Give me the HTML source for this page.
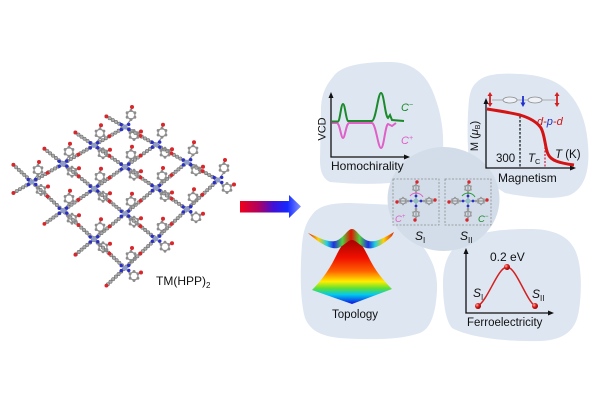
<!DOCTYPE html>
<html><head><meta charset="utf-8">
<style>html,body{margin:0;padding:0;background:#fff;}svg{display:block;}</style>
</head>
<body>
<svg width="600" height="400" viewBox="0 0 600 400" xmlns="http://www.w3.org/2000/svg" xmlns:xlink="http://www.w3.org/1999/xlink" font-family="Liberation Sans, Arial, sans-serif">
<defs>
 <linearGradient id="arr" x1="240" y1="0" x2="301" y2="0" gradientUnits="userSpaceOnUse">
  <stop offset="0" stop-color="#f0001a"/>
  <stop offset="0.3" stop-color="#b00060"/>
  <stop offset="0.55" stop-color="#4010d8"/>
  <stop offset="0.78" stop-color="#1428ff"/>
  <stop offset="1" stop-color="#8494ff"/>
 </linearGradient>
 <linearGradient id="cone" x1="0" y1="238" x2="0" y2="304" gradientUnits="userSpaceOnUse">
  <stop offset="0" stop-color="#a00000"/>
  <stop offset="0.3" stop-color="#f01000"/>
  <stop offset="0.5" stop-color="#ff6000"/>
  <stop offset="0.66" stop-color="#ffee00"/>
  <stop offset="0.76" stop-color="#60e030"/>
  <stop offset="0.86" stop-color="#00c8f0"/>
  <stop offset="1" stop-color="#1010e0"/>
 </linearGradient>
 <linearGradient id="band" x1="308" y1="0" x2="394" y2="0" gradientUnits="userSpaceOnUse">
  <stop offset="0" stop-color="#e02000"/>
  <stop offset="0.12" stop-color="#ffd000"/>
  <stop offset="0.22" stop-color="#20d0e0"/>
  <stop offset="0.3" stop-color="#2030e0"/>
  <stop offset="0.4" stop-color="#50d040"/>
  <stop offset="0.5" stop-color="#e01000"/>
  <stop offset="0.6" stop-color="#50d040"/>
  <stop offset="0.7" stop-color="#2030e0"/>
  <stop offset="0.78" stop-color="#20d0e0"/>
  <stop offset="0.88" stop-color="#ffd000"/>
  <stop offset="1" stop-color="#e02000"/>
 </linearGradient>
 <radialGradient id="ball" cx="0.35" cy="0.35" r="0.7">
  <stop offset="0" stop-color="#ffb8a8"/>
  <stop offset="0.45" stop-color="#e02020"/>
  <stop offset="1" stop-color="#8a0000"/>
 </radialGradient>
 <!-- lattice node -->
 <g id="nd">
  <g stroke="#8a8a8a" stroke-width="1.2" fill="none">
   <line x1="0" y1="0" x2="6" y2="-7.5"/>
   <line x1="6" y1="-16.5" x2="7" y2="-20"/>
   <line x1="0" y1="0" x2="5.1" y2="5.75"/>
   <line x1="12.9" y1="5.75" x2="16" y2="4.5"/>
   <polygon points="6,-16.5 9.9,-14.25 9.9,-9.75 6,-7.5 2.1,-9.75 2.1,-14.25"/>
   <polygon points="9,3.5 12.9,5.75 12.9,10.25 9,12.5 5.1,10.25 5.1,5.75"/>
  </g>
  <g stroke="#8c8c8c" stroke-width="2.9" stroke-linecap="round" stroke-dasharray="0 4.5" fill="none">
   <polygon points="6,-16.5 9.9,-14.25 9.9,-9.75 6,-7.5 2.1,-9.75 2.1,-14.25"/>
   <polygon points="9,3.5 12.9,5.75 12.9,10.25 9,12.5 5.1,10.25 5.1,5.75"/>
  </g>
  <circle cx="7" cy="-20" r="2" fill="#d8262a"/>
  <circle cx="16" cy="4.5" r="2" fill="#d8262a"/>
  <circle cx="0" cy="0" r="2.5" fill="#8e9ccc"/>
  <g fill="#2a2ec8">
   <circle cx="3.8" cy="2.4" r="1.7"/><circle cx="-3.8" cy="-2.4" r="1.7"/>
   <circle cx="-3.7" cy="2.6" r="1.7"/><circle cx="3.7" cy="-2.6" r="1.7"/>
  </g>
 </g>
 <!-- center molecule -->
 <g id="mo">
  <g stroke="#8a8a8a" stroke-width="1" fill="none">
   <line x1="0" y1="-19" x2="0" y2="19"/><line x1="-19" y1="0" x2="19" y2="0"/>
   <polygon points="0,-16.2 2.77,-14.6 2.77,-11.4 0,-9.8 -2.77,-11.4 -2.77,-14.6"/>
   <polygon points="13,-3.2 15.77,-1.6 15.77,1.6 13,3.2 10.23,1.6 10.23,-1.6"/>
   <polygon points="0,9.8 2.77,11.4 2.77,14.6 0,16.2 -2.77,14.6 -2.77,11.4"/>
   <polygon points="-13,-3.2 -10.23,-1.6 -10.23,1.6 -13,3.2 -15.77,1.6 -15.77,-1.6"/>
  </g>
  <g stroke="#9c9c9c" stroke-width="2.2" stroke-linecap="round" stroke-dasharray="0 3.2" fill="none">
   <polygon points="0,-16.2 2.77,-14.6 2.77,-11.4 0,-9.8 -2.77,-11.4 -2.77,-14.6"/>
   <polygon points="13,-3.2 15.77,-1.6 15.77,1.6 13,3.2 10.23,1.6 10.23,-1.6"/>
   <polygon points="0,9.8 2.77,11.4 2.77,14.6 0,16.2 -2.77,14.6 -2.77,11.4"/>
   <polygon points="-13,-3.2 -10.23,-1.6 -10.23,1.6 -13,3.2 -15.77,1.6 -15.77,-1.6"/>
  </g>
  <circle cx="0" cy="-8" r="1.3" fill="#9c9c9c"/><circle cx="0" cy="8" r="1.3" fill="#9c9c9c"/>
  <circle cx="-8" cy="0" r="1.3" fill="#9c9c9c"/><circle cx="8" cy="0" r="1.3" fill="#9c9c9c"/>
  <g fill="#d8262a">
   <circle cx="1" cy="-19" r="1.7"/><circle cx="-1" cy="19" r="1.7"/>
   <circle cx="19" cy="-1" r="1.7"/><circle cx="-19" cy="1" r="1.7"/>
  </g>
  <g fill="#2a2ec8">
   <circle cx="0" cy="-5" r="1.4"/><circle cx="0" cy="5" r="1.4"/>
   <circle cx="-5" cy="0" r="1.4"/><circle cx="5" cy="0" r="1.4"/>
  </g>
  <circle cx="0" cy="0" r="2.4" fill="#8fc0c8"/>
 </g>
</defs>
<rect width="600" height="400" fill="#fff"/>

<!-- lattice -->
<g fill="none">
 <path d="M125,127L94,145.3L63,163.7L32,182L13.4,193
 M156,144.7L125,166.7L94,188.7L63,210.7L44.4,223.9
 M187,162.3L156,188L125,213.7L94,239.3L75.4,254.7
 M218,180L187,209.3L156,238.7L125,268L106.4,285.6
 M106.4,116.4L125,127L156,144.7L187,162.3L218,180
 M75.4,132.5L94,145.3L125,166.7L156,188L187,209.3
 M44.4,148.7L63,163.7L94,188.7L125,213.7L156,238.7
 M13.4,164.8L32,182L63,210.7L94,239.3L125,268" stroke="#8a8a8a" stroke-width="1.3"/>
 <path d="M125,127L94,145.3L63,163.7L32,182L13.4,193
 M156,144.7L125,166.7L94,188.7L63,210.7L44.4,223.9
 M187,162.3L156,188L125,213.7L94,239.3L75.4,254.7
 M218,180L187,209.3L156,238.7L125,268L106.4,285.6
 M106.4,116.4L125,127L156,144.7L187,162.3L218,180
 M75.4,132.5L94,145.3L125,166.7L156,188L187,209.3
 M44.4,148.7L63,163.7L94,188.7L125,213.7L156,238.7
 M13.4,164.8L32,182L63,210.7L94,239.3L125,268" stroke="#6a6a6a" stroke-width="3.9" stroke-linecap="round" stroke-dasharray="0 3.7"/>
 <path d="M125,127L94,145.3L63,163.7L32,182L13.4,193
 M156,144.7L125,166.7L94,188.7L63,210.7L44.4,223.9
 M187,162.3L156,188L125,213.7L94,239.3L75.4,254.7
 M218,180L187,209.3L156,238.7L125,268L106.4,285.6
 M106.4,116.4L125,127L156,144.7L187,162.3L218,180
 M75.4,132.5L94,145.3L125,166.7L156,188L187,209.3
 M44.4,148.7L63,163.7L94,188.7L125,213.7L156,238.7
 M13.4,164.8L32,182L63,210.7L94,239.3L125,268" stroke="#aaaaaa" stroke-width="2.8" stroke-linecap="round" stroke-dasharray="0 3.7"/>
 <path d="M140.5,135.85l0.01,0 M171.5,153.5l0.01,0 M202.5,171.15l0.01,0
 M109.5,156l0.01,0 M140.5,177.35l0.01,0 M171.5,198.65l0.01,0
 M78.5,176.2l0.01,0 M109.5,201.2l0.01,0 M140.5,226.2l0.01,0
 M47.5,196.35l0.01,0 M78.5,225l0.01,0 M109.5,253.65l0.01,0
 M109.5,136.15l0.01,0 M78.5,154.5l0.01,0 M47.5,172.85l0.01,0
 M140.5,155.7l0.01,0 M109.5,177.7l0.01,0 M78.5,199.7l0.01,0
 M171.5,175.15l0.01,0 M140.5,200.85l0.01,0 M109.5,226.5l0.01,0
 M202.5,194.65l0.01,0 M171.5,224l0.01,0 M140.5,253.35l0.01,0
 M106.4,116.4l0.01,0 M75.4,132.5l0.01,0 M44.4,148.7l0.01,0 M13.4,164.8l0.01,0
 M13.4,193l0.01,0 M44.4,223.9l0.01,0 M75.4,254.7l0.01,0 M106.4,285.6l0.01,0" stroke="#d8262a" stroke-width="3.8" stroke-linecap="round"/>
</g>
<use xlink:href="#nd" href="#nd" x="125" y="127"/>
<use xlink:href="#nd" href="#nd" x="156" y="144.7"/>
<use xlink:href="#nd" href="#nd" x="187" y="162.3"/>
<use xlink:href="#nd" href="#nd" x="218" y="180"/>
<use xlink:href="#nd" href="#nd" x="94" y="145.3"/>
<use xlink:href="#nd" href="#nd" x="125" y="166.7"/>
<use xlink:href="#nd" href="#nd" x="156" y="188"/>
<use xlink:href="#nd" href="#nd" x="187" y="209.3"/>
<use xlink:href="#nd" href="#nd" x="63" y="163.7"/>
<use xlink:href="#nd" href="#nd" x="94" y="188.7"/>
<use xlink:href="#nd" href="#nd" x="125" y="213.7"/>
<use xlink:href="#nd" href="#nd" x="156" y="238.7"/>
<use xlink:href="#nd" href="#nd" x="32" y="182"/>
<use xlink:href="#nd" href="#nd" x="63" y="210.7"/>
<use xlink:href="#nd" href="#nd" x="94" y="239.3"/>
<use xlink:href="#nd" href="#nd" x="125" y="268"/>
<text x="156" y="285" font-size="12" fill="#111">TM(HPP)<tspan font-size="8" dy="3">2</tspan></text>

<!-- arrow -->
<polygon points="240,201 289,201 289,195 301,206.5 289,218 289,212.5 240,212.5" fill="url(#arr)"/>

<!-- blobs -->
<g fill="#dde6f1">
 <path d="M333,77 C340,66 360,62 390,62 C410,62 425,72 433,92 C441,112 444,130 443,152 L415,178 C395,185 360,185 330,182 C322,178 320,170 320,160 L321,110 C321,95 326,85 333,77 Z"/>
 <path d="M477,82 C485,74 500,73 520,74 C540,75 556,80 566,90 C578,102 586,118 588,145 C590,170 585,188 570,195 C555,200 530,198 505,193 L470,170 C467,150 467,120 469,100 C470,92 472,86 477,82 Z"/>
 <path d="M312,215 C318,206 330,203 350,203 L395,205 L418,240 C430,255 438,270 437,290 C436,310 432,328 420,333 C400,340 370,340 340,338 C320,336 310,330 305,318 C300,300 300,270 302,245 C303,232 306,222 312,215 Z"/>
 <path d="M463,240 C480,232 500,229 530,229 C550,229 566,234 574,248 C582,262 582,290 579,310 C576,330 565,340 540,341 C510,342 470,338 452,328 C445,320 443,300 443,283 C443,265 448,250 463,240 Z"/>
</g>
<ellipse cx="443.5" cy="199" rx="56" ry="52" fill="#d2dde9"/>

<!-- center boxes -->
<rect x="393" y="179" width="46" height="46" fill="none" stroke="#8a8a8a" stroke-width="0.8" stroke-dasharray="2,1.5"/>
<rect x="445" y="179" width="46" height="46" fill="none" stroke="#8a8a8a" stroke-width="0.8" stroke-dasharray="2,1.5"/>
<use xlink:href="#mo" href="#mo" x="416" y="201"/>
<use xlink:href="#mo" href="#mo" x="468" y="201"/>
<path d="M410,196 A8,8 0 0 1 423,197" fill="none" stroke="#e060c8" stroke-width="1"/>
<path d="M462,196 A8,8 0 0 1 475,197" fill="none" stroke="#2a9a3a" stroke-width="1"/>
<text x="395" y="222" font-size="9.5" font-style="italic" fill="#e060c8">C<tspan font-size="6" dy="-4">+</tspan></text>
<text x="478" y="222" font-size="9.5" font-style="italic" fill="#1a8a2a">C<tspan font-size="6" dy="-4">−</tspan></text>
<text x="415" y="240" font-size="12" font-style="italic" fill="#111">S<tspan font-size="8" dy="3" font-style="normal">I</tspan></text>
<text x="460" y="240" font-size="12" font-style="italic" fill="#111">S<tspan font-size="8" dy="3" font-style="normal">II</tspan></text>

<!-- Homochirality -->
<path d="M331,96 L331,157 L406,157" fill="none" stroke="#111" stroke-width="1.3"/>
<polygon points="331,92 328.5,98 333.5,98" fill="#111"/>
<polygon points="410,157 404,154.5 404,159.5" fill="#111"/>
<path d="M332,123 L337,123 C340,124 341,138 343,138 C345,138 346,124 349,123 L372,123 C376,124 378,148 381,148 C384,148 385,126 388,124 L392,126 L396,123" fill="none" stroke="#e060c8" stroke-width="2"/>
<path d="M332,121.5 L338,121.5 C340,121 341,104 343,104 C345,104 346,120 348,121 L372,121 C376,120 378,93 381,93 C384,93 385,116 388,118 L390,115 L392,120 L404,121" fill="none" stroke="#1a8a2a" stroke-width="2"/>
<text x="401" y="111" font-size="11" font-style="italic" fill="#1a8a2a">C<tspan font-size="7" dy="-4">−</tspan></text>
<text x="401" y="144" font-size="11" font-style="italic" fill="#e060c8">C<tspan font-size="7" dy="-4">+</tspan></text>
<text transform="translate(325.5,129) rotate(-90)" text-anchor="middle" font-size="11" fill="#111">VCD</text>
<text x="331" y="170" font-size="12" fill="#111">Homochirality</text>

<!-- Magnetism -->
<path d="M486,103 L486,168 L571,168" fill="none" stroke="#111" stroke-width="1.3"/>
<polygon points="486,98 483.5,104 488.5,104" fill="#111"/>
<polygon points="576,168 570,165.5 570,170.5" fill="#111"/>
<line x1="520" y1="116" x2="520" y2="168" stroke="#111" stroke-width="1.2" stroke-dasharray="2.5,1.5"/>
<line x1="545" y1="140" x2="545" y2="168" stroke="#d02040" stroke-width="1.2" stroke-dasharray="2,1.5"/>
<path d="M487,109 C500,111 512,113 520,115 C530,118 537,122 541,128 C545,135 545,148 548,154 C551,161 560,163 574,165" fill="none" stroke="#d41414" stroke-width="3"/>
<line x1="492" y1="100" x2="556" y2="100" stroke="#9a9a9a" stroke-width="0.8"/>
<ellipse cx="510" cy="100" rx="7" ry="3" fill="#eef2f8" stroke="#8a8a8a" stroke-width="0.8"/>
<ellipse cx="535" cy="100" rx="7" ry="3" fill="#eef2f8" stroke="#8a8a8a" stroke-width="0.8"/>
<g stroke="#d42020" stroke-width="1.8">
 <line x1="490" y1="95" x2="490" y2="104"/>
 <line x1="557" y1="95" x2="557" y2="104"/>
</g>
<g fill="#d42020">
 <polygon points="490,92 487.5,96 492.5,96"/><polygon points="490,107 487.5,103 492.5,103"/>
 <polygon points="557,92 554.5,96 559.5,96"/><polygon points="557,107 554.5,103 559.5,103"/>
</g>
<line x1="523" y1="96" x2="523" y2="103" stroke="#2030d0" stroke-width="1.8"/>
<polygon points="523,107 520.5,102.5 525.5,102.5" fill="#2030d0"/>
<text x="537" y="125" font-size="11" font-style="italic" fill="#d41414">d-<tspan fill="#2030d0">p</tspan>-d</text>
<text transform="translate(478,136) rotate(-90)" text-anchor="middle" font-size="11" fill="#111">M (<tspan font-style="italic">μ</tspan><tspan font-size="7" dy="2">B</tspan><tspan dy="-2">)</tspan></text>
<text x="496" y="162" font-size="11.5" fill="#111">300</text>
<text x="528" y="162" font-size="11.5" font-style="italic" fill="#111">T<tspan font-size="7.5" dy="2" font-style="normal">C</tspan></text>
<text x="555" y="158" font-size="11.5" fill="#111"><tspan font-style="italic">T</tspan> (K)</text>
<text x="498" y="182" font-size="12" fill="#111">Magnetism</text>

<!-- Topology -->
<path d="M352,238 C345,238 340,248 335,258 C328,272 320,282 312,290 L352,304 L392,289 C384,281 376,272 369,258 C364,248 359,238 352,238 Z" fill="url(#cone)"/>
<path d="M308,233 C320,238 330,244 338,240 C345,236 348,229 352,229 C356,229 359,236 366,240 C374,244 384,238 394,232 L392,236 C384,244 374,250 366,248 C360,246 356,240 352,240 C348,240 344,246 338,248 C330,250 318,242 308,233 Z" fill="url(#band)"/>
<text x="332" y="318" font-size="11.5" fill="#111">Topology</text>

<!-- Ferroelectricity -->
<path d="M466,253 L466,313 L549,313" fill="none" stroke="#111" stroke-width="1.3"/>
<polygon points="466,248 463.5,254 468.5,254" fill="#111"/>
<polygon points="554,313 548,310.5 548,315.5" fill="#111"/>
<path d="M478,306 C488,300 498,267 507,267 C516,267 526,300 535,306" fill="none" stroke="#d42020" stroke-width="1.5"/>
<circle cx="478" cy="306" r="3" fill="url(#ball)"/>
<circle cx="507" cy="267" r="3" fill="url(#ball)"/>
<circle cx="535" cy="306" r="3" fill="url(#ball)"/>
<text x="490" y="261" font-size="12" fill="#111">0.2 eV</text>
<text x="473" y="297" font-size="12" font-style="italic" fill="#111">S<tspan font-size="8" dy="3" font-style="normal">I</tspan></text>
<text x="532" y="298" font-size="12" font-style="italic" fill="#111">S<tspan font-size="8" dy="3" font-style="normal">II</tspan></text>
<text x="467" y="326" font-size="11.5" fill="#111">Ferroelectricity</text>
</svg>
</body></html>
